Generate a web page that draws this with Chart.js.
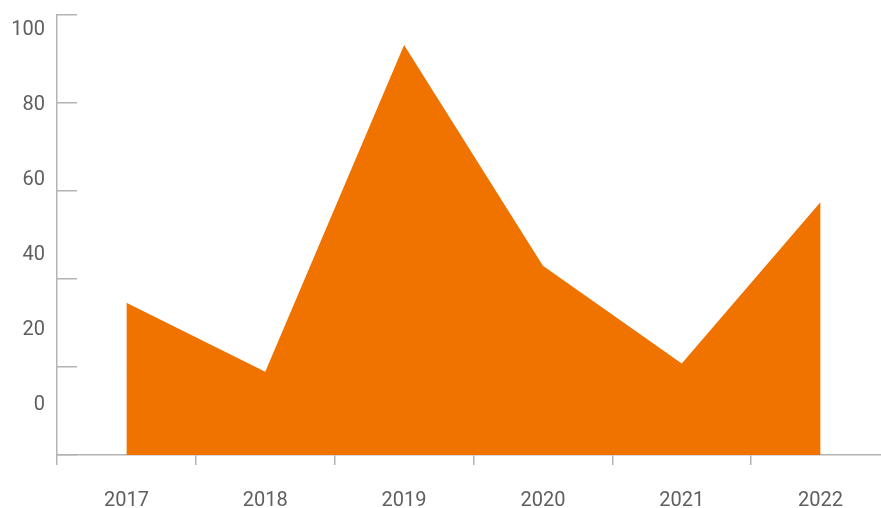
<!DOCTYPE html>
<html>
<head>
<meta charset="utf-8">
<script src="https://cdn.jsdelivr.net/npm/chart.js@4"></script>
<style>
  html, body { margin: 0; padding: 0; background: #fff; overflow: hidden; }
  #wrap { width: 890px; height: 508px; }
</style>
</head>
<body>
<div id="wrap"><canvas id="areaChart" width="890" height="508"></canvas></div>
<script>
const years = ['2017', '2018', '2019', '2020', '2021', '2022'];
const values = [34.6, 18.9, 93.2, 43.0, 20.8, 57.5];
const yLabels = [0, 20, 40, 60, 80, 100];

const axisGrey = '#b3b3b3';
const textGrey = '#5f5f5f';
const orange = 'rgb(240, 115, 0)';

// no extra room for half labels, the layout padding sets the top edge
function noPad(s) {
    s.paddingTop = 0;
    s.paddingBottom = 0;
}

const data_area = {
    labels: years,
    datasets: [{
        data: values,
        yAxisID: 'y',
        backgroundColor: orange,
        borderWidth: 0,
        pointRadius: 0,
        tension: 0,
        fill: 'origin'
    }]
};

const config_area = {
    type: 'line',
    data: data_area,
    options: {
        responsive: false,
        animation: false,
        layout: { padding: { top: 15, right: 0, left: 0, bottom: 0 } },
        plugins: { legend: { display: false }, tooltip: { enabled: false } },
        scales: {
            x: {
                offset: true,
                grid: { offset: true, drawOnChartArea: false, tickLength: 10, color: axisGrey, lineWidth: 1.5 },
                border: { color: axisGrey, width: 1.5 },
                ticks: { color: textGrey, font: { family: 'Roboto', size: 20 }, padding: 24, maxRotation: 0 },
                afterFit: s => { s.height = 53; s.paddingLeft = 0; s.paddingRight = 0; }
            },
            y: {
                position: 'left',
                weight: 0,
                min: 0,
                max: 100,
                ticks: { display: false, stepSize: 20 },
                grid: { drawOnChartArea: false, tickLength: -20, color: axisGrey, lineWidth: 1.5 },
                border: { color: axisGrey, width: 1.5 },
                afterFit: s => { s.width = 0; noPad(s); }
            },
            yText: {
                position: 'left',
                weight: 1,
                min: -13.33,
                max: 104.0,
                grid: { display: false, drawTicks: false },
                border: { display: false },
                ticks: { color: textGrey, font: { family: 'Roboto', size: 20 }, padding: 12 },
                afterBuildTicks: s => { s.ticks = yLabels.map(v => ({ value: v })); },
                afterFit: s => { s.width = 57; noPad(s); }
            }
        }
    }
};

const areaChart = new Chart(document.getElementById('areaChart'), config_area);
</script>
</body>
</html>
